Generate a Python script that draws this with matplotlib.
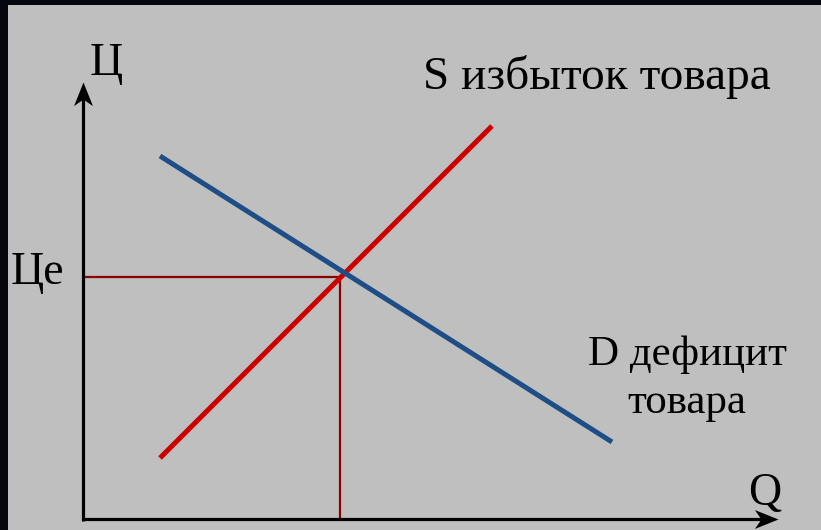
import matplotlib
matplotlib.use("Agg")
import matplotlib.pyplot as plt
from matplotlib.patches import Rectangle
from matplotlib.path import Path

# Data (q = quantity, p = price), in chart units
supply_q = [77, 409]
supply_p = [61, 393]
demand_q = [77, 529]
demand_p = [363, 77]
eq_q = 257
eq_p = 242
axis_q_max = 695
axis_p_max = 437

W, H = 821, 530
fig = plt.figure(figsize=(W / 100, H / 100), dpi=100)
fig.patch.set_facecolor("#06060e")

ax = fig.add_axes([0, 0, 1, 1])
ax.set_facecolor("none")
ax.set_xlim(-83, W - 83)
ax.set_ylim(-(H - 519), 519)
ax.axis("off")

# gray panel
ax.add_patch(Rectangle((8 / W, 0), 1, 1 - 5 / H, transform=fig.transFigure,
                       facecolor="#bfbfbf", edgecolor="none", zorder=0))

font = dict(family=["Liberation Serif", "DejaVu Serif"], color="black")
fs = 33

# stealth arrowhead markers (tip at marker origin)
up_head = Path([(0, 0), (0.4, -1), (0, -0.72), (-0.4, -1), (0, 0)],
               [Path.MOVETO, Path.LINETO, Path.LINETO, Path.LINETO, Path.CLOSEPOLY])
right_head = Path([(0, 0), (-1, 0.4), (-0.72, 0), (-1, -0.4), (0, 0)],
                  [Path.MOVETO, Path.LINETO, Path.LINETO, Path.LINETO, Path.CLOSEPOLY])

# axes
ax.plot([0, 0], [-1.5, axis_p_max - 10], color="black", lw=2.3, solid_capstyle="butt", zorder=3)
ax.plot([-1.5, axis_q_max - 10], [0, 0], color="black", lw=2.3, solid_capstyle="butt", zorder=3)
ax.plot([0], [axis_p_max], marker=up_head, ms=34, color="black", mew=0, zorder=3)
ax.plot([axis_q_max], [0], marker=right_head, ms=34, color="black", mew=0, zorder=3)

# equilibrium guide lines
ax.plot([0, eq_q], [eq_p, eq_p], color="#8b0000", lw=1.6, solid_capstyle="butt", zorder=2)
ax.plot([eq_q, eq_q], [0, eq_p], color="#8b0000", lw=1.6, solid_capstyle="butt", zorder=2)

# supply and demand
ax.plot(supply_q, supply_p, color="#cc0000", lw=3.6, solid_capstyle="butt", zorder=2)
ax.plot(demand_q, demand_p, color="#1f4e87", lw=3.6, solid_capstyle="butt", zorder=2)

# labels
ax.text(90 - 83, 519 - 75, "Ц", fontsize=fs, ha="left", va="baseline", **font)
ax.text(11 - 83, 519 - 284, "Це", fontsize=fs, ha="left", va="baseline", **font)
ax.text(423 - 83, 519 - 89, "S избыток товара", fontsize=34, ha="left", va="baseline", **font)
ax.text(687 - 83, 519 - 365, "D дефицит", fontsize=31, ha="center", va="baseline", **font)
ax.text(687 - 83, 519 - 413, "товара", fontsize=31, ha="center", va="baseline", **font)
ax.text(748 - 83, 519 - 505, "Q", fontsize=fs, ha="left", va="baseline", **font)

fig.savefig("out.png", dpi=100, facecolor=fig.get_facecolor())
